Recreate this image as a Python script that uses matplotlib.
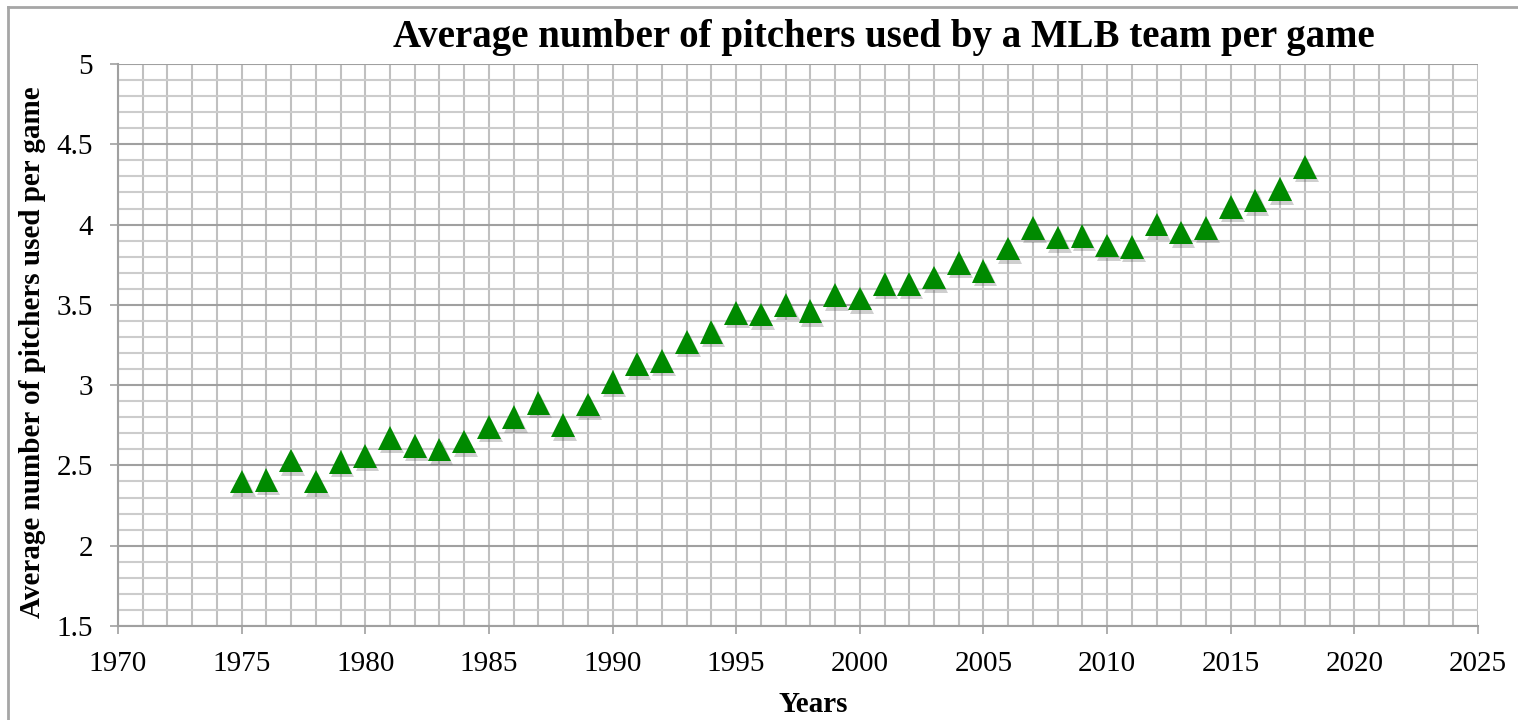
import matplotlib
matplotlib.use("Agg")
import matplotlib.pyplot as plt
import matplotlib.patheffects as pe
from matplotlib.lines import Line2D
from matplotlib.ticker import MultipleLocator

# data
years = list(range(1975, 2019))
pitchers = [2.40, 2.41, 2.53, 2.40, 2.52, 2.56, 2.67, 2.62, 2.60, 2.65,
            2.74, 2.80, 2.89, 2.75, 2.88, 3.02, 3.13, 3.15, 3.27, 3.33,
            3.45, 3.44, 3.50, 3.46, 3.56, 3.54, 3.63, 3.63, 3.67, 3.76,
            3.71, 3.85, 3.98, 3.92, 3.93, 3.87, 3.86, 4.00, 3.95, 3.98,
            4.11, 4.15, 4.22, 4.36]

title = "Average number of pitchers used by a MLB team per game"
xlabel = "Years"
ylabel = "Average number of pitchers used per game"

plt.rcParams['font.family'] = ['Liberation Serif', 'DejaVu Serif']

fig = plt.figure(figsize=(15.18, 7.2), dpi=100)
fig.set_facecolor('#FFFFFF')
ax = fig.add_axes([118/1518, 94/720, 1360/1518, 562/720])

# grey outer frame (cut off at right and bottom)
frame_col = '#a6a6a6'
fig.add_artist(Line2D([7.5/1518, 7.5/1518], [0, 1 - 7/720], color=frame_col, lw=2))
fig.add_artist(Line2D([7.5/1518, 1], [1 - 7/720, 1 - 7/720], color=frame_col, lw=2))

ax.plot(years, pitchers, linestyle='none', marker='^', markersize=17,
        color='#008a00', markeredgewidth=0,
        path_effects=[pe.SimplePatchShadow(offset=(1.5, -2.5), shadow_rgbFace='#555555', alpha=0.28),
                      pe.Normal()], zorder=5)

ax.set_xlim(1970, 2025)
ax.set_ylim(1.5, 5)
ax.xaxis.set_major_locator(MultipleLocator(5))
ax.xaxis.set_minor_locator(MultipleLocator(1))
ax.yaxis.set_major_locator(MultipleLocator(0.5))
ax.yaxis.set_minor_locator(MultipleLocator(0.1))
ax.yaxis.set_major_formatter(matplotlib.ticker.FuncFormatter(lambda v, p: ('%g' % v)))

ax.grid(which='major', axis='y', color='#a0a0a0', lw=1.5)
ax.grid(which='minor', axis='y', color='#cccccc', lw=1.5)
ax.grid(which='both', axis='x', color='#c0c0c0', lw=1.5)
ax.set_axisbelow(True)

for s in ['top', 'right']:
    ax.spines[s].set_visible(False)
for s in ['left', 'bottom']:
    ax.spines[s].set_color('#a0a0a0')
    ax.spines[s].set_linewidth(1.5)

ax.tick_params(which='major', length=6, width=1.2, color='#a0a0a0',
               labelsize=21, pad=12)
ax.tick_params(which='minor', length=0)

fig.text(884/1518, 1 - 38/720, title, ha='center', va='center',
         fontsize=28, fontweight='bold')
fig.text(813/1518, 15/720, xlabel, ha='center', va='center',
         fontsize=21, fontweight='bold')
fig.text(33/1518, 1 - 352/720, ylabel, ha='center', va='center',
         rotation=90, fontsize=21, fontweight='bold')

fig.savefig('out.png', dpi=100, facecolor='#FFFFFF')
